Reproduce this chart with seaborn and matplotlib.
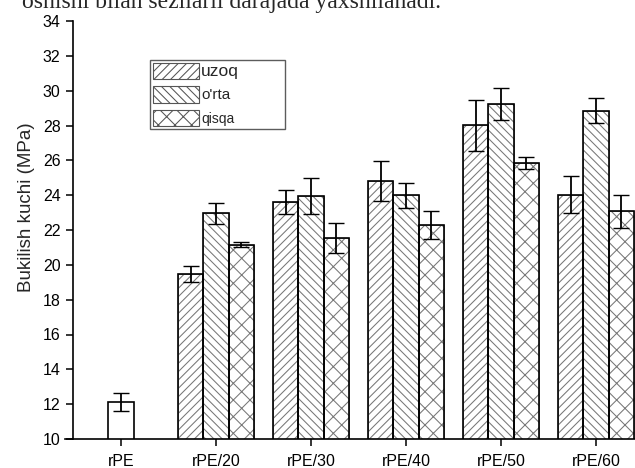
import numpy as np
import pandas as pd
import matplotlib
matplotlib.use("Agg")
import matplotlib.pyplot as plt
import seaborn as sns
from matplotlib.patches import Patch

# =====================
# DATA
# =====================
categories = ['rPE', 'rPE/20', 'rPE/30', 'rPE/40', 'rPE/50', 'rPE/60']
blend_cats = categories[1:]
series = ['uzoq', "o'rta", 'qisqa']

uzoq = [19.46, 23.60, 24.79, 28.01, 24.03]
uzoq_err = [0.47, 0.69, 1.15, 1.45, 1.07]
orta = [22.96, 23.95, 23.99, 29.23, 28.85]
orta_err = [0.61, 1.05, 0.72, 0.92, 0.73]
qisqa = [21.15, 21.54, 22.30, 25.83, 23.07]
qisqa_err = [0.14, 0.84, 0.80, 0.35, 0.96]

rpe_value = [12.12]
rpe_err = [0.50]

hatches = ['////', '\\\\\\\\', 'xx']
y_ticks = np.arange(10, 35, 2)

df = pd.DataFrame({
    'sample': blend_cats * 3,
    'series': [s for s in series for _ in blend_cats],
    'value': uzoq + orta + qisqa,
})
errs = [uzoq_err, orta_err, qisqa_err]
vals = [uzoq, orta, qisqa]

# =====================
# STYLE
# =====================
sns.set_style('ticks')
plt.rcParams['font.family'] = ['Liberation Sans', 'DejaVu Sans']
plt.rcParams['hatch.linewidth'] = 0.75

fig = plt.figure(figsize=(6.35, 4.68), dpi=100)
ax = fig.add_axes([65 / 635, 29 / 468, 570 / 635, 418 / 468])

# hatched bars (grey hatch)
sns.barplot(data=df, x='sample', y='value', hue='series', order=categories,
            hue_order=series, palette=['white'] * 3, edgecolor='#777777',
            linewidth=0.6, errorbar=None, legend=False, ax=ax, saturation=1)
for cont, h in zip(ax.containers, hatches):
    for p in cont:
        p.set_hatch(h)

# black outlines on top
sns.barplot(data=df, x='sample', y='value', hue='series', order=categories,
            hue_order=series, fill=False, palette=['black'] * 3,
            linewidth=1.2, errorbar=None, legend=False, ax=ax)

# error bars at bar centres
for cont, v, e in zip(ax.containers[:3], vals, errs):
    xs = [p.get_x() + p.get_width() / 2 for p in cont]
    ax.errorbar(xs, v, yerr=e, fmt='none', ecolor='black', elinewidth=1.3,
                capsize=5.5, capthick=1.0, zorder=5)

# plain rPE bar
sns.barplot(x=['rPE'], y=rpe_value, order=categories, color='white',
            edgecolor='black', linewidth=1.2, width=0.267, errorbar=None,
            saturation=1, ax=ax)
rpe_bar = ax.containers[-1][0]
ax.errorbar([rpe_bar.get_x() + rpe_bar.get_width() / 2], rpe_value, yerr=rpe_err,
            fmt='none', ecolor='black', elinewidth=1.3, capsize=5.5,
            capthick=1.0, zorder=5)

# =====================
# AXES
# =====================
ax.set_xlim(-0.589, 5.41)
ax.set_ylim(10, 34)
ax.set_yticks(y_ticks)
ax.set_xlabel('')
ax.set_ylabel('Bukilish kuchi (MPa)', fontsize=13.5)
ax.yaxis.set_label_coords(-0.053, 0.555)
ax.tick_params(axis='both', direction='out', length=5, width=1.1,
               labelsize=11.5, colors='black', pad=4)
ax.tick_params(axis='x', pad=5.5)
for side in ['top', 'right']:
    ax.spines[side].set_visible(False)
for side in ['left', 'bottom']:
    ax.spines[side].set_linewidth(1.2)
    ax.spines[side].set_color('black')
ax.spines['left'].set_position(('outward', -5.8))

handles = [Patch(facecolor='white', edgecolor='#555555', hatch=h, label=s,
                 linewidth=0.8)
           for s, h in zip(series, hatches)]
leg = ax.legend(handles=handles, loc='upper left',
                bbox_to_anchor=(0.149, 0.716, 0.237, 0.191), mode='expand',
                fontsize=10.5, handlelength=3.15, handleheight=1.37,
                handletextpad=0.15, labelspacing=0.48, borderpad=0.2,
                borderaxespad=0, fancybox=False, frameon=True)
leg.get_frame().set_edgecolor('#333333')
leg.get_frame().set_linewidth(1.0)
leg.get_texts()[0].set_fontsize(12.5)
leg.get_texts()[1].set_fontsize(11)
leg.get_texts()[2].set_fontsize(10)

# cropped line of body text above the chart
fig.text(0.035, 1 - 8 / 468, 'oshishi bilan sezilarli darajada yaxshilanadi.',
         family=['Liberation Serif', 'DejaVu Serif'], fontsize=17, va='baseline')

fig.savefig('out.png', dpi=100)
